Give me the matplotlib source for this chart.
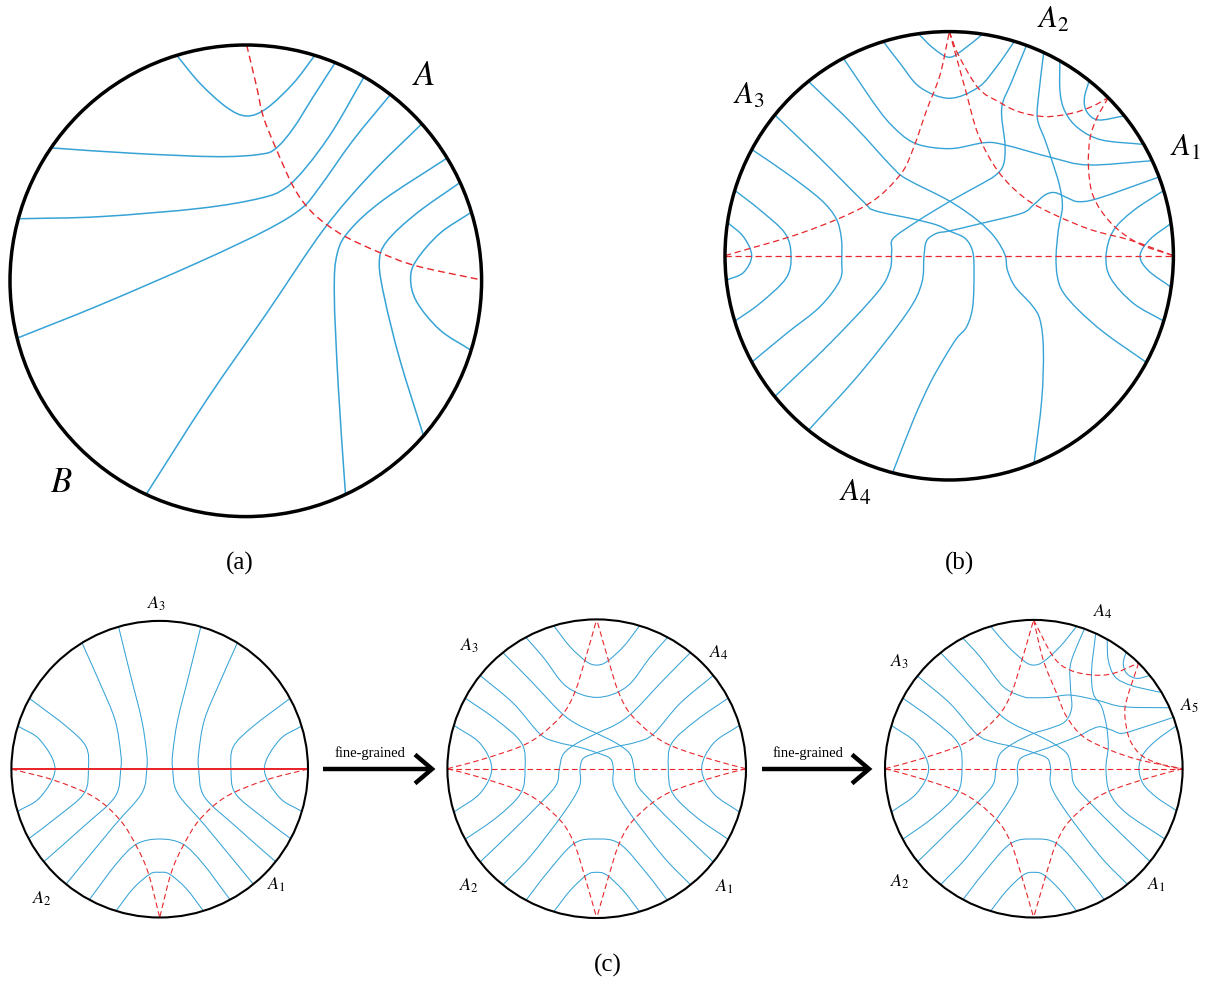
import numpy as np
import matplotlib
matplotlib.use("Agg")
import matplotlib.pyplot as plt
from matplotlib.path import Path
from matplotlib.patches import PathPatch, Circle

plt.rcParams["mathtext.fontset"] = "stix"
plt.rcParams["font.family"] = ["Liberation Serif", "DejaVu Serif"]

BLUE = "#36a3d6"
RED = "#e8262b"

# Each diagram is traced on its own sketch grid (y grows downwards);
# the *_FRAME tuple is the boundary circle on that grid: (cx, cy, radius).

# ---- (a) two regions A and B -------------------------------------------
A_FRAME = (737.5, 782.5, 707.5)
A_BLUE = [
    [(530, 105), (600, 190), (680, 262), (740, 288), (800, 265), (880, 190), (945, 105)],
    [(155, 385), (400, 400), (650, 410), (780, 403), (828, 385), (880, 325), (940, 230), (1005, 130)],
    [(50, 595), (300, 590), (600, 565), (780, 535), (855, 505), (920, 440), (1000, 330), (1088, 178)],
    [(50, 955), (300, 855), (600, 725), (800, 630), (905, 565), (960, 500), (1060, 360), (1165, 232)],
    [(440, 1420), (620, 1140), (800, 880), (970, 630), (1110, 465), (1265, 312)],
    [(1035, 1420), (1015, 1100), (1003, 820), (1012, 700), (1050, 630), (1150, 540), (1340, 415)],
    [(1268, 1245), (1200, 1020), (1155, 840), (1138, 730), (1160, 665), (1250, 580), (1375, 490)],
    [(1410, 990), (1320, 930), (1250, 845), (1232, 775), (1250, 720), (1320, 640), (1410, 578)],
]
A_RED = [
    [(740, 88), (770, 200), (790, 290), (830, 390), (880, 500), (925, 565), (975, 610),
     (1040, 652), (1140, 698), (1250, 738), (1445, 780)],
]

# ---- (b) four regions A1..A4 -------------------------------------------
B_FRAME = (747.5, 767.5, 672.5)
B_BLUE = [
    [(655, 100), (700, 145), (748, 172), (795, 145), (848, 100)],
    [(550, 125), (600, 190), (660, 262), (748, 295), (835, 262), (890, 200), (943, 125)],
    [(85, 668), (130, 710), (155, 767), (130, 818), (85, 840)],
    [(107, 572), (180, 630), (255, 700), (273, 767), (258, 835), (180, 910), (107, 963)],
    [(1415, 670), (1350, 718), (1320, 767), (1345, 812), (1415, 862)],
    [(1390, 572), (1300, 632), (1240, 692), (1218, 767), (1232, 835), (1300, 910), (1390, 963)],
    [(1030, 160), (1017, 275), (1012, 355), (1035, 420), (1055, 480), (1078, 555), (1087, 620),
     (1075, 690), (1068, 770), (1072, 830), (1088, 875), (1135, 930), (1215, 1000), (1335, 1085)],
    [(1078, 185), (1080, 275), (1095, 335), (1135, 385), (1205, 420), (1325, 437)],
    [(1165, 245), (1153, 295), (1160, 335), (1195, 360), (1270, 350)],
    [(430, 175), (540, 335), (600, 400), (645, 430), (700, 443), (765, 445), (855, 428),
     (915, 435), (1055, 473), (1165, 495), (1355, 483)],
    [(330, 250), (460, 375), (580, 505), (625, 540), (748, 603), (835, 663), (885, 713), (915, 765),
     (922, 810), (945, 860), (995, 915), (1020, 960), (1030, 1050), (1025, 1200), (1000, 1385)],
    [(230, 1185), (390, 1030), (530, 880), (570, 810), (575, 750), (580, 715), (650, 665), (748, 605),
     (835, 557), (885, 527), (910, 495), (915, 435), (905, 325), (935, 245), (978, 140)],
    [(228, 348), (360, 475), (490, 605), (525, 632), (640, 657), (710, 675), (748, 693), (795, 715),
     (818, 755), (822, 820), (818, 920), (800, 980), (770, 1015), (735, 1070), (690, 1150),
     (640, 1260), (580, 1410)],
    [(330, 1285), (480, 1120), (620, 940), (665, 850), (672, 767), (680, 722), (710, 700), (748, 693),
     (845, 670), (965, 640), (1000, 615), (1035, 585), (1065, 578), (1105, 595), (1135, 605),
     (1195, 595), (1372, 533)],
    [(158, 450), (260, 520), (360, 597), (408, 655), (424, 715), (425, 780), (420, 840), (360, 920),
     (260, 1000), (158, 1085)],
]
B_RED = [
    [(75, 767), (1420, 767)],
    [(75, 767), (310, 697), (500, 615), (600, 525), (640, 445), (680, 330), (720, 225), (748, 95)],
    [(748, 95), (795, 265), (835, 405), (895, 515), (975, 595), (1065, 645), (1175, 690), (1295, 722), (1420, 767)],
    [(748, 95), (775, 165), (835, 265), (895, 305), (955, 335), (1035, 350), (1115, 340), (1175, 320), (1225, 293)],
    [(1225, 293), (1190, 355), (1170, 415), (1165, 495), (1175, 575), (1205, 635), (1255, 690), (1325, 735), (1420, 767)],
]

# ---- (c) three regions -> four -> five -----------------------------------
C1_FRAME = (479, 567.5, 445)
C1_BLUE = [
    [(50, 437), (120, 480), (165, 567), (120, 652), (50, 695)],
    [(88, 355), (200, 440), (258, 500), (265, 567), (252, 640), (170, 712), (88, 775)],
    [(245, 187), (300, 310), (345, 420), (362, 520), (362, 567), (345, 650), (250, 740), (135, 842)],
    [(355, 138), (390, 280), (425, 420), (440, 520), (440, 567), (425, 640), (340, 740), (200, 910)],
    [(908, 437), (838, 480), (793, 567), (838, 652), (908, 695)],
    [(870, 355), (758, 440), (700, 500), (693, 567), (706, 640), (788, 712), (870, 775)],
    [(713, 187), (658, 310), (613, 420), (596, 520), (596, 567), (613, 650), (708, 740), (823, 842)],
    [(603, 138), (568, 280), (533, 420), (518, 520), (518, 567), (533, 640), (618, 740), (758, 910)],
    [(270, 955), (350, 850), (410, 792), (479, 777), (548, 792), (608, 850), (688, 955)],
    [(348, 992), (400, 925), (450, 882), (479, 877), (508, 882), (558, 925), (610, 992)],
]
C1_RED = [
    [(33, 567), (925, 567)],
    [(33, 567), (160, 600), (280, 650), (360, 720), (410, 800), (445, 880), (479, 1010)],
    [(925, 567), (798, 600), (678, 650), (598, 720), (548, 800), (513, 880), (479, 1010)],
]

C2_FRAME = (500, 566, 448)
C2_BLUE = [
    [(372, 140), (420, 200), (470, 245), (500, 255), (530, 245), (580, 200), (628, 140)],
    [(290, 177), (340, 232), (410, 320), (500, 352), (590, 320), (660, 232), (710, 177)],
    [(372, 992), (420, 932), (470, 885), (500, 877), (530, 885), (580, 932), (628, 992)],
    [(290, 957), (350, 880), (430, 792), (500, 777), (570, 792), (650, 880), (710, 957)],
    [(75, 437), (150, 490), (185, 566), (150, 640), (75, 695)],
    [(107, 355), (200, 420), (275, 490), (285, 566), (272, 640), (200, 712), (107, 777)],
    [(925, 437), (850, 490), (815, 566), (850, 640), (925, 695)],
    [(893, 355), (800, 420), (725, 490), (715, 566), (728, 640), (800, 712), (893, 777)],
    [(222, 222), (300, 300), (390, 395), (440, 432), (500, 460), (560, 490), (600, 522), (612, 566),
     (620, 612), (660, 660), (760, 760), (845, 842)],
    [(778, 222), (700, 300), (610, 395), (560, 432), (500, 460), (440, 490), (400, 522), (388, 566),
     (380, 612), (340, 660), (240, 760), (155, 842)],
    [(155, 290), (250, 370), (330, 462), (380, 486), (450, 502), (500, 518), (540, 535), (550, 566),
     (552, 620), (600, 700), (700, 830), (778, 910)],
    [(845, 290), (750, 370), (670, 462), (620, 486), (550, 502), (500, 518), (460, 535), (450, 566),
     (448, 620), (400, 700), (300, 830), (222, 910)],
]
C2_RED = [
    [(52, 566), (948, 566)],
    [(52, 566), (150, 540), (270, 500), (335, 462), (400, 400), (435, 335), (465, 240), (500, 122)],
    [(52, 566), (150, 592), (270, 632), (335, 670), (400, 732), (435, 797), (465, 892), (500, 1010)],
    [(948, 566), (850, 540), (730, 500), (665, 462), (600, 400), (565, 335), (535, 240), (500, 122)],
    [(948, 566), (850, 592), (730, 632), (665, 670), (600, 732), (565, 797), (535, 892), (500, 1010)],
]

C3_FRAME = (821.5, 566, 446.5)
C3_BLUE = [
    [(692, 138), (745, 200), (795, 245), (821, 255), (850, 245), (900, 200), (950, 140)],
    [(610, 177), (660, 230), (730, 320), (790, 350), (821, 353), (870, 352), (930, 345), (1010, 360),
     (1090, 380), (1225, 385)],
    [(397, 437), (470, 490), (506, 566), (470, 640), (397, 695)],
    [(430, 355), (520, 420), (595, 490), (606, 566), (592, 640), (520, 712), (430, 777)],
    [(692, 992), (740, 932), (790, 885), (821, 877), (852, 885), (902, 932), (950, 992)],
    [(610, 957), (670, 880), (750, 792), (821, 777), (892, 792), (972, 880), (1032, 957)],
    [(545, 222), (620, 300), (710, 395), (760, 432), (821, 460), (880, 490), (922, 522), (934, 566),
     (942, 612), (982, 660), (1082, 760), (1167, 842)],
    [(973, 148), (942, 220), (930, 265), (932, 330), (935, 385), (915, 425), (870, 445), (821, 460),
     (760, 490), (720, 522), (708, 566), (700, 612), (660, 660), (560, 760), (477, 842)],
    [(475, 290), (570, 370), (650, 462), (700, 486), (770, 502), (821, 518), (862, 535), (872, 566),
     (874, 620), (922, 700), (1022, 830), (1100, 910)],
    [(1240, 412), (1140, 445), (1085, 460), (1055, 450), (1020, 440), (990, 450), (960, 466), (900, 490),
     (860, 505), (821, 518), (782, 535), (772, 566), (770, 620), (722, 700), (622, 830), (545, 910)],
    [(1005, 165), (995, 270), (1000, 340), (1025, 380), (1040, 440), (1045, 500), (1038, 566),
     (1050, 640), (1100, 700), (1215, 777)],
    [(1040, 180), (1045, 240), (1065, 290), (1110, 315), (1170, 330), (1205, 337)],
    [(1095, 220), (1090, 250), (1100, 280), (1130, 295), (1168, 288)],
    [(1250, 437), (1190, 480), (1150, 522), (1137, 566), (1150, 612), (1190, 652), (1250, 692)],
]
C3_RED = [
    [(375, 566), (1268, 566)],
    [(375, 566), (471, 540), (591, 500), (656, 462), (721, 400), (756, 335), (786, 240), (821, 122)],
    [(375, 566), (471, 592), (591, 632), (656, 670), (721, 732), (756, 797), (786, 892), (821, 1010)],
    [(1268, 566), (1171, 592), (1051, 632), (986, 670), (921, 732), (886, 797), (856, 892), (821, 1010)],
    [(821, 122), (850, 240), (890, 340), (920, 410), (970, 470), (1050, 510), (1140, 540), (1268, 566)],
    [(821, 122), (880, 230), (930, 270), (1000, 285), (1060, 280), (1130, 255)],
    [(1130, 255), (1100, 360), (1095, 410), (1110, 480), (1150, 530), (1220, 558), (1268, 566)],
]

# region labels: (text, x, y) in each sketch grid
A_LABELS = [("$A$", 1272, 170), ("$B$", 185, 1390)]
B_LABELS = [("$A_2$", 1058, 62), ("$A_3$", 145, 290), ("$A_1$", 1455, 445), ("$A_4$", 465, 1480)]
C1_LABELS = [("$A_3$", 470, 70), ("$A_2$", 125, 955), ("$A_1$", 830, 915)]
C2_LABELS = [("$A_3$", 118, 198), ("$A_4$", 868, 218), ("$A_2$", 118, 918), ("$A_1$", 885, 920)]
C3_LABELS = [("$A_4$", 1028, 95), ("$A_3$", 420, 245), ("$A_5$", 1290, 378), ("$A_2$", 420, 905),
             ("$A_1$", 1190, 915)]


def smooth_path(pts):
    """Catmull-Rom through the points, handed to matplotlib as cubic Beziers."""
    pts = np.asarray(pts, dtype=float)
    if len(pts) == 2:
        return Path(pts, [Path.MOVETO, Path.LINETO])
    p = np.vstack([2 * pts[0] - pts[1], pts, 2 * pts[-1] - pts[-2]])
    verts = [pts[0]]
    codes = [Path.MOVETO]
    for i in range(1, len(p) - 2):
        p0, p1, p2, p3 = p[i - 1], p[i], p[i + 1], p[i + 2]
        verts += [p1 + (p2 - p0) / 6.0, p2 - (p3 - p1) / 6.0, p2]
        codes += [Path.CURVE4] * 3
    return Path(verts, codes)


def place(pts, frame, circle, snap=True):
    fx, fy, fr = frame
    cx, cy, r = circle
    uv = (np.asarray(pts, dtype=float) - [fx, fy]) / fr
    if snap:
        for k in (0, -1):
            uv[k] = uv[k] / np.hypot(*uv[k])
    return np.column_stack([cx + r * uv[:, 0], cy + r * uv[:, 1]])


def draw_panel(ax, circle, frame, blue, red, labels, lw_circ, lw_blue, lw_red,
               label_size, solid_axis=False):
    for curve in blue:
        ax.add_patch(PathPatch(smooth_path(place(curve, frame, circle)), fill=False,
                               edgecolor=BLUE, lw=lw_blue, capstyle="butt", zorder=2))
    for i, curve in enumerate(red):
        if solid_axis and i == 0:
            style, lw = "-", lw_red * 1.8
        else:
            style, lw = (0, (5, 3)), lw_red
        ax.add_patch(PathPatch(smooth_path(place(curve, frame, circle)), fill=False,
                               edgecolor=RED, lw=lw, linestyle=style, zorder=3))
    cx, cy, r = circle
    ax.add_patch(Circle((cx, cy), r, fill=False, edgecolor="black", lw=lw_circ, zorder=4))
    fx, fy, fr = frame
    for txt, x, y in labels:
        ax.text(cx + r * (x - fx) / fr, cy + r * (y - fy) / fr, txt, fontsize=label_size,
                ha="center", va="center", zorder=5)


def draw_arrow(ax, x0, x1, y, head):
    ax.plot([x0, x1], [y, y], color="black", lw=3.2, solid_capstyle="butt", zorder=5)
    ax.plot([x1 - head, x1, x1 - head], [y - head * 0.85, y, y + head * 0.85], color="black",
            lw=3.2, solid_joinstyle="miter", solid_capstyle="butt", zorder=5)
    ax.text((x0 + x1) / 2 - 8, y - 16, "fine-grained", fontsize=10.5, ha="center",
            va="center", zorder=5)


fig = plt.figure(figsize=(12.16, 9.81), dpi=100)
ax = fig.add_axes([0, 0, 1, 1])
ax.set_xlim(0, 1216)
ax.set_ylim(981, 0)
ax.set_aspect("equal")
ax.axis("off")

draw_panel(ax, (245.8, 280.8, 235.8), A_FRAME, A_BLUE, A_RED, A_LABELS, 2.5, 1.1, 1.0, 25)
draw_panel(ax, (949.2, 255.8, 224.2), B_FRAME, B_BLUE, B_RED, B_LABELS, 2.5, 1.0, 0.9, 22)
draw_panel(ax, (159.7, 769.2, 148.3), C1_FRAME, C1_BLUE, C1_RED, C1_LABELS, 1.5, 0.75, 0.8, 13,
           solid_axis=True)
draw_panel(ax, (596.7, 768.7, 149.3), C2_FRAME, C2_BLUE, C2_RED, C2_LABELS, 1.5, 0.75, 0.8, 13)
draw_panel(ax, (1033.8, 768.7, 148.8), C3_FRAME, C3_BLUE, C3_RED, C3_LABELS, 1.5, 0.75, 0.8, 13)

draw_arrow(ax, 323, 432, 769, 17)
draw_arrow(ax, 762, 869, 769, 17)

ax.text(240, 563, "(a)", fontsize=18, ha="center", va="center")
ax.text(960, 563, "(b)", fontsize=18, ha="center", va="center")
ax.text(608, 965, "(c)", fontsize=18, ha="center", va="center")

fig.savefig("out.png", dpi=100, facecolor="white")
